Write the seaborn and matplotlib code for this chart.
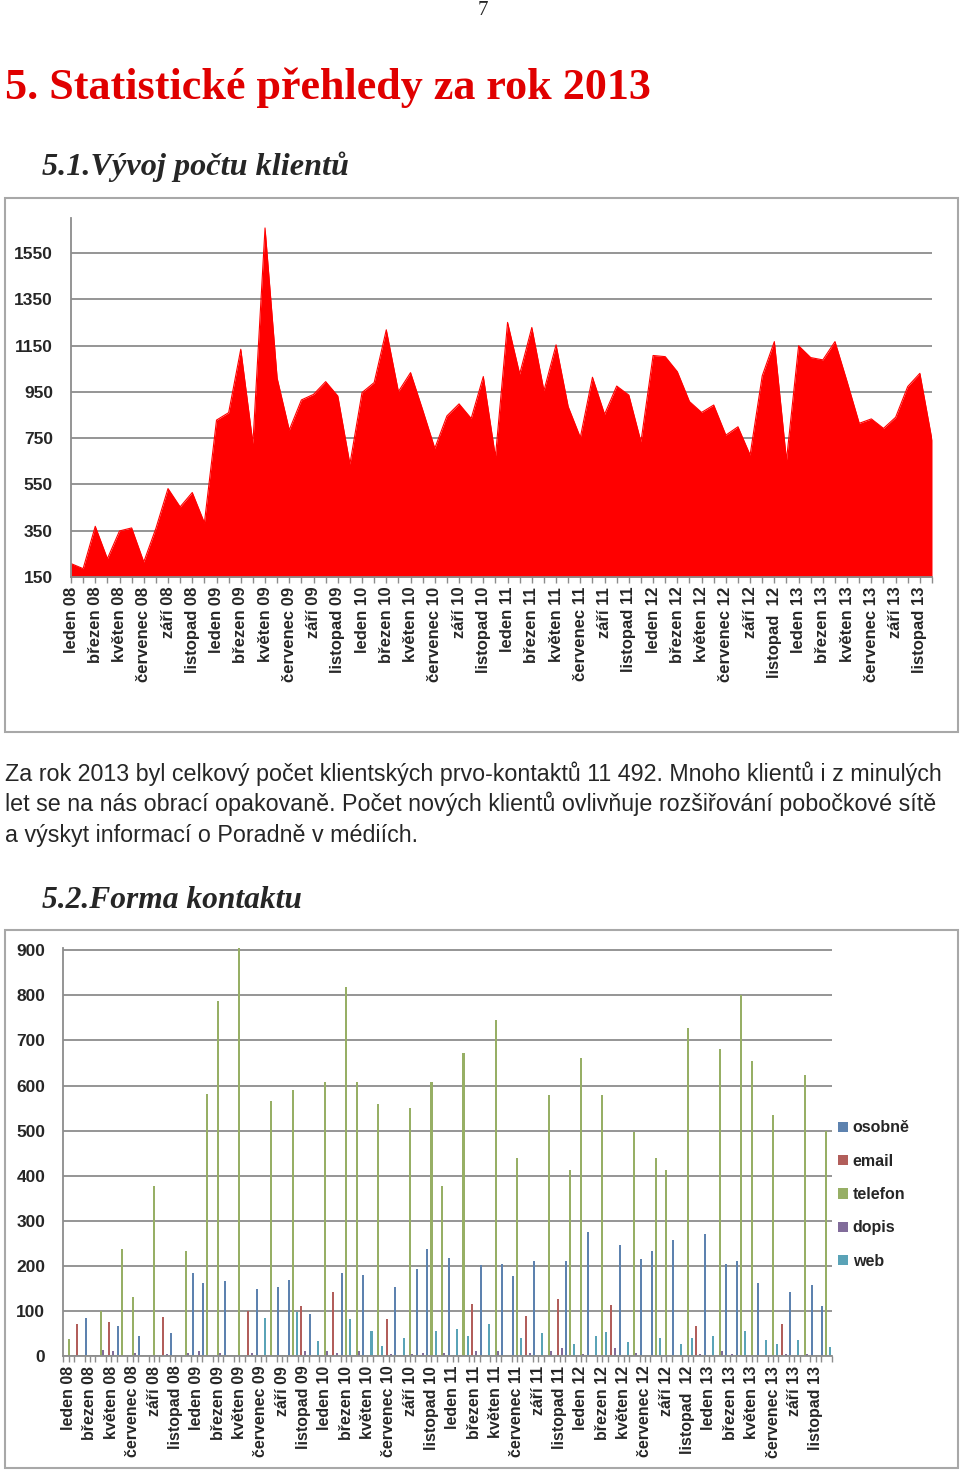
import numpy as np
import pandas as pd
import seaborn as sns
import matplotlib.pyplot as plt
from matplotlib.patches import Rectangle

# --- data: months leden 08 .. prosinec 13 (72 months) ---
KLIENTI = [208, 186, 369, 229, 349, 362, 215, 360, 532, 453, 515, 384,
           828, 860, 1134, 727, 1658, 1009, 785, 915, 939, 994, 932, 638,
           947, 990, 1218, 951, 1033, 872, 706, 846, 898, 835, 1016, 669,
           1250, 1027, 1228, 955, 1153, 886, 753, 1013, 853, 975, 936, 734,
           1107, 1102, 1037, 908, 861, 893, 763, 799, 677, 1019, 1167, 655,
           1149, 1098, 1088, 1167, 994, 814, 833, 792, 840, 973, 1030, 742]

MESICE = ['leden 08', 'březen 08', 'květen 08', 'červenec 08', 'září 08', 'listopad 08',
          'leden 09', 'březen 09', 'květen 09', 'červenec 09', 'září 09', 'listopad 09',
          'leden 10', 'březen 10', 'květen 10', 'červenec 10', 'září 10', 'listopad 10',
          'leden 11', 'březen 11', 'květen 11', 'červenec 11', 'září 11', 'listopad 11',
          'leden 12', 'březen 12', 'květen 12', 'červenec 12', 'září 12', 'listopad  12',
          'leden 13', 'březen 13', 'květen 13', 'červenec 13', 'září 13', 'listopad 13']

# bars of the second chart, as far as they are visible in the picture
OSOBNE = [0, 0, 85, 0, 0, 67, 0, 44, 0, 0, 52, 0,
          185, 163, 0, 166, 0, 0, 148, 0, 153, 168, 0, 94,
          0, 0, 185, 0, 179, 0, 0, 153, 0, 192, 238, 0,
          218, 0, 0, 201, 0, 205, 177, 0, 210, 0, 0, 210,
          0, 274, 0, 0, 247, 0, 216, 233, 0, 258, 0, 0,
          271, 0, 203, 210, 0, 162, 0, 0, 142, 0, 157, 111]
EMAIL = [0, 72, 0, 0, 76, 0, 0, 0, 0, 87, 0, 0,
         0, 0, 0, 0, 0, 100, 0, 0, 0, 0, 111, 0,
         0, 143, 0, 0, 0, 0, 81, 0, 0, 0, 0, 0,
         0, 0, 116, 0, 0, 0, 0, 89, 0, 0, 126, 0,
         0, 0, 0, 113, 0, 0, 0, 0, 0, 0, 0, 66,
         0, 0, 0, 0, 0, 0, 0, 72, 0, 0, 0, 0]
TELEFON = [38, 0, 0, 99, 0, 238, 131, 0, 377, 0, 0, 233,
           0, 582, 787, 0, 904, 0, 0, 565, 0, 591, 0, 0,
           608, 0, 819, 608, 0, 558, 0, 0, 549, 0, 608, 377,
           0, 672, 0, 0, 745, 0, 440, 0, 0, 578, 0, 412,
           661, 0, 580, 0, 0, 497, 0, 440, 412, 0, 728, 0,
           0, 681, 0, 801, 655, 0, 534, 0, 0, 623, 0, 499]
DOPIS = [0, 0, 0, 13, 10, 0, 7, 0, 0, 4, 0, 7,
         12, 0, 7, 0, 0, 7, 0, 0, 0, 0, 12, 0,
         10, 7, 0, 10, 0, 0, 4, 0, 4, 7, 0, 7,
         0, 0, 12, 0, 10, 0, 0, 7, 0, 10, 17, 0,
         4, 0, 0, 17, 0, 7, 0, 0, 0, 0, 0, 4,
         0, 10, 4, 0, 0, 0, 0, 4, 0, 4, 0, 0]
WEB = [0, 0, 0, 0, 0, 0, 0, 0, 0, 0, 0, 0,
       0, 0, 0, 0, 0, 0, 85, 0, 0, 98, 0, 33,
       0, 0, 81, 0, 55, 22, 0, 41, 0, 0, 55, 0,
       59, 44, 0, 72, 0, 0, 39, 0, 50, 0, 0, 26,
       0, 44, 54, 0, 30, 0, 0, 39, 0, 26, 41, 0,
       44, 0, 0, 56, 0, 35, 26, 0, 35, 0, 0, 21]

FORMY = ['osobně', 'email', 'telefon', 'dopis', 'web']
BARVY = ['#4F81BD', '#C0504D', '#9BBB59', '#8064A2', '#4BACC6']

TEXT = ['Za rok 2013 byl celkový počet klientských prvo-kontaktů 11 492. Mnoho klientů i z minulých',
        'let se na nás obrací opakovaně. Počet nových klientů ovlivňuje rozšiřování pobočkové sítě',
        'a výskyt informací o Poradně v médiích.']

sns.set_style('white')
plt.rcParams['font.family'] = ['Liberation Sans', 'DejaVu Sans']

GRID = '#8c8c8c'
SERIF = ['Liberation Serif', 'DejaVu Serif']

fig = plt.figure(figsize=(9.6, 14.7), dpi=100)


def fx(px):
    return px / 960


def fy(py):
    return 1 - py / 1470


def frame(x0, y0, x1, y1):
    fig.add_artist(Rectangle((fx(x0), fy(y1)), fx(x1) - fx(x0), fy(y0) - fy(y1),
                             transform=fig.transFigure, fill=False,
                             ec='#a8a8a8', lw=1.5))


# page texts
fig.text(fx(483), fy(1), '7', ha='center', va='top', fontsize=15, family=SERIF)
fig.text(fx(5), fy(99), '5. Statistické přehledy za rok 2013', ha='left',
         va='baseline', fontsize=31.8, fontweight='bold', color='#E00000', family=SERIF)
fig.text(fx(42), fy(175), '5.1.Vývoj počtu klientů', ha='left', va='baseline',
         fontsize=23.2, fontweight='bold', style='italic', family=SERIF)
for i, line in enumerate(TEXT):
    fig.text(fx(5), fy(781 + i * 30.5), line, ha='left', va='baseline', fontsize=16.75)
fig.text(fx(42), fy(908), '5.2.Forma kontaktu', ha='left', va='baseline',
         fontsize=22.7, fontweight='bold', style='italic', family=SERIF)

# --- chart 1: area ---
frame(5, 198, 958, 732)
ax1 = fig.add_axes([fx(71), fy(577), (932 - 71) / 960, (577 - 218) / 1470])
df1 = pd.DataFrame({'mesic': np.arange(len(KLIENTI)), 'klienti': KLIENTI})
sns.lineplot(data=df1, x='mesic', y='klienti', color='#FF0000', lw=0.8, ax=ax1)
ax1.fill_between(df1['mesic'], df1['klienti'], 150, color='#FF0000', lw=0)
ax1.set_xlim(0, len(KLIENTI) - 1)
ax1.set_ylim(150, 1701)
ax1.set_yticks(range(150, 1551, 200))
ax1.set_xticks(range(0, 72, 2))
ax1.set_xticks(range(1, 72, 2), minor=True)
ax1.set_xticklabels(MESICE, rotation=90, fontweight='bold', fontsize=12)

# --- chart 2: grouped bars ---
frame(5, 930, 958, 1468)
ax2 = fig.add_axes([fx(63.3), fy(1356), 768.4 / 960, 408 / 1470])
rows = []
for forma, hodnoty in zip(FORMY, [OSOBNE, EMAIL, TELEFON, DOPIS, WEB]):
    for m, v in enumerate(hodnoty):
        rows.append((m, forma, v))
df2 = pd.DataFrame(rows, columns=['mesic', 'forma', 'pocet'])
sns.barplot(data=df2, x='mesic', y='pocet', hue='forma', hue_order=FORMY,
            palette=BARVY, width=0.95, linewidth=0, errorbar=None,
            antialiased=False, ax=ax2)
ax2.set_xlim(-0.5, 71.5)
ax2.set_ylim(0, 905)
ax2.set_yticks(range(0, 901, 100))
ax2.set_xticks(range(0, 72, 2))
ax2.set_xticks(np.arange(-0.5, 72, 1), minor=True)
ax2.set_xticklabels(MESICE, rotation=90, fontweight='bold', fontsize=11.5)
handles, labels = ax2.get_legend_handles_labels()
ax2.legend(handles, labels, loc='upper left', bbox_to_anchor=(fx(824), fy(1106)),
           bbox_transform=fig.transFigure, frameon=False,
           prop={'weight': 'bold', 'size': 11.5}, handlelength=0.6, handleheight=0.6,
           handletextpad=0.3, labelspacing=1.15)

for ax in (ax1, ax2):
    ax.set_xlabel('')
    ax.set_ylabel('')
    ax.grid(axis='y', color=GRID, lw=1.3)
    ax.grid(axis='x', visible=False)
    ax.set_axisbelow(True)
    for s in ('top', 'right'):
        ax.spines[s].set_visible(False)
    for s in ('left', 'bottom'):
        ax.spines[s].set_color(GRID)
        ax.spines[s].set_linewidth(1.3)
    ax.tick_params(axis='x', which='both', length=4, width=1, color=GRID,
                   direction='out', pad=3, bottom=True)
    ax.tick_params(axis='y', length=0, pad=13, labelsize=12.5)
    for lab in ax.get_yticklabels():
        lab.set_fontweight('bold')

fig.savefig('out.png', dpi=100)
